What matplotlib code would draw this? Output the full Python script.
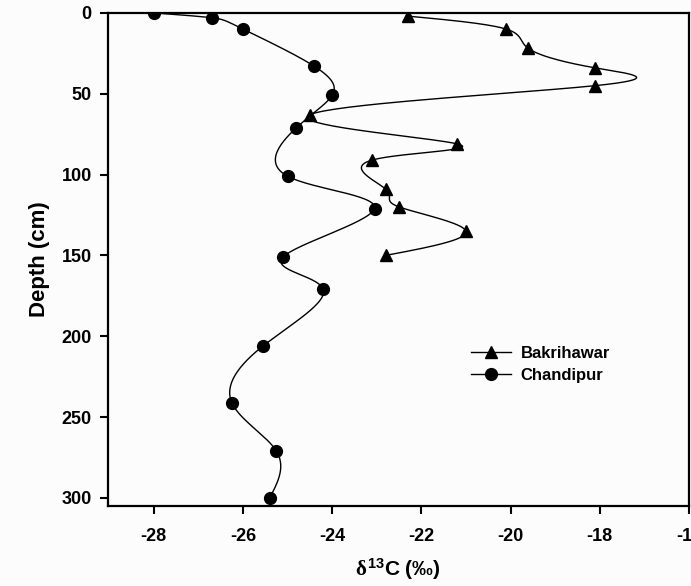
import numpy as np
import matplotlib
matplotlib.use("Agg")
import matplotlib.pyplot as plt

plt.rcParams["font.family"] = ["Liberation Sans", "DejaVu Sans"]
plt.rcParams["font.weight"] = "bold"
plt.rcParams["axes.unicode_minus"] = False
plt.rcParams["mathtext.fontset"] = "custom"
plt.rcParams["mathtext.rm"] = "Liberation Serif"
plt.rcParams["mathtext.it"] = "Liberation Serif"
plt.rcParams["mathtext.bf"] = "Liberation Sans:bold"

# Bakrihawar core
bak_depth = [2, 10, 22, 34, 45, 63, 81, 91, 109, 120, 135, 150]
bak_d13c = [-22.3, -20.1, -19.6, -18.1, -18.1, -24.5, -21.2, -23.1, -22.8, -22.5, -21.0, -22.8]

# Chandipur core
cha_depth = [0, 3, 10, 33, 51, 71, 101, 121, 151, 171, 206, 241, 271, 300]
cha_d13c = [-28.0, -26.7, -26.0, -24.4, -24.0, -24.8, -25.0, -23.05, -25.1, -24.2,
            -25.55, -26.25, -25.25, -25.4]


def natural_spline(t, y, tt):
    # natural cubic spline, plain numpy
    t = np.asarray(t, float)
    y = np.asarray(y, float)
    n = len(t)
    h = np.diff(t)
    A = np.zeros((n, n))
    r = np.zeros(n)
    A[0, 0] = A[-1, -1] = 1
    for i in range(1, n - 1):
        A[i, i - 1] = h[i - 1]
        A[i, i] = 2 * (h[i - 1] + h[i])
        A[i, i + 1] = h[i]
        r[i] = 3 * ((y[i + 1] - y[i]) / h[i] - (y[i] - y[i - 1]) / h[i - 1])
    c = np.linalg.solve(A, r)
    b = (y[1:] - y[:-1]) / h - h * (2 * c[:-1] + c[1:]) / 3
    d = (c[1:] - c[:-1]) / (3 * h)
    k = np.clip(np.searchsorted(t, tt, side="right") - 1, 0, n - 2)
    dx = tt - t[k]
    return y[k] + b[k] * dx + c[k] * dx ** 2 + d[k] * dx ** 3


def smooth(x, y):
    # parametric spline through the points (SigmaPlot-like curve)
    t = np.arange(len(x), dtype=float)
    tt = np.linspace(0, len(x) - 1, 400)
    return natural_spline(t, x, tt), natural_spline(t, y, tt)


fig = plt.figure(figsize=(6.91, 5.86), dpi=100)
fig.patch.set_facecolor("#fcfcfc")
ax = fig.add_axes([0.156, 0.1365, 0.841, 0.8415])
ax.set_facecolor("#fcfcfc")

sx, sy = smooth(bak_d13c, bak_depth)
ax.plot(sx, sy, color="black", lw=1.0)
ax.plot(bak_d13c, bak_depth, ls="none", marker="^", ms=8.5, color="black")
ax.plot([], [], color="black", lw=1.0, marker="^", ms=8.5, label="Bakrihawar")

sx, sy = smooth(cha_d13c, cha_depth)
ax.plot(sx, sy, color="black", lw=1.0)
ax.plot(cha_d13c, cha_depth, ls="none", marker="o", ms=8.5, color="black")
ax.plot([], [], color="black", lw=1.0, marker="o", ms=8.5, label="Chandipur")

ax.set_xlim(-29.03, -16)
ax.set_ylim(305, 0)
ax.set_xticks(np.arange(-28, -15, 2))
ax.set_yticks(np.arange(0, 301, 50))
ax.tick_params(direction="out", length=5.5, width=1.5, labelsize=13)
ax.tick_params(axis="x", pad=10)
ax.tick_params(axis="y", pad=6)
for lab in ax.get_xticklabels() + ax.get_yticklabels():
    lab.set_fontweight("bold")
for s in ax.spines.values():
    s.set_linewidth(1.6)

ax.set_ylabel("Depth (cm)", fontsize=16, fontweight="bold", labelpad=8)
ax.set_xlabel(r"$\delta^{\mathbf{13}}$C (‰)", fontsize=15,
              fontweight="bold", labelpad=9)

ax.legend(loc="center left", bbox_to_anchor=(0.6, 0.287), frameon=False,
          handlelength=2.4, handletextpad=0.55, labelspacing=0.45,
          prop={"weight": "bold", "size": 12})

fig.savefig("out.png", facecolor=fig.get_facecolor())
